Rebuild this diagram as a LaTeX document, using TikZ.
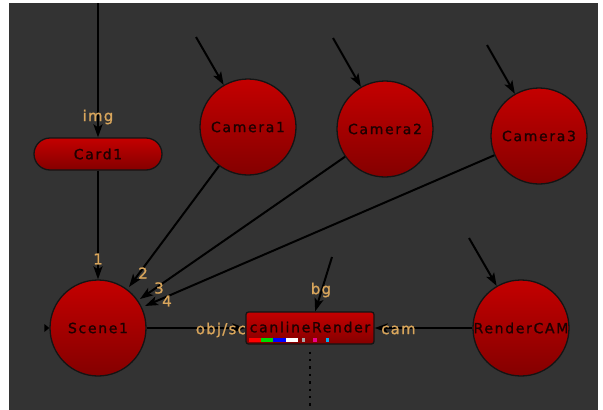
\documentclass[tikz,border=0pt]{standalone}
\usepackage{fontspec}
\newfontfamily\nodefont[LetterSpace=12,FakeBold=1.2]{DejaVu Sans}
\newfontfamily\labfont[LetterSpace=8,FakeBold=1.2]{DejaVu Sans}
\usetikzlibrary{arrows.meta}
\definecolor{bgdark}{HTML}{333333}
\definecolor{nred}{HTML}{C40000}
\definecolor{dred}{HTML}{840000}
\definecolor{labc}{HTML}{D9A65C}
\definecolor{edgec}{HTML}{141414}
\definecolor{ntext}{HTML}{1E0000}
\begin{document}
\begin{tikzpicture}[x=1pt,y=-1pt,
  nuke/.style={draw=edgec, line width=1.3pt, top color=nred, bottom color=dred,
    font=\nodefont\fontsize{14}{14}\selectfont, text=ntext, inner sep=0pt},
  camnode/.style={nuke, circle, minimum size=96pt},
  boxnode/.style={nuke, minimum width=128pt, minimum height=32pt},
  conn/.style={draw=black, line width=2pt, -{Stealth[length=13pt,width=9pt,inset=3pt]}},
  lab/.style={text=labc, font=\labfont\fontsize{15}{15}\selectfont, inner sep=0pt},
  dots/.style={draw=black, line width=2.4pt, dash pattern=on 2.4pt off 5pt}
]
\fill[white] (0,0) rectangle (603,410);
\useasboundingbox (0,0) rectangle (603,410);
\fill[bgdark] (9,3) rectangle (598,410);

% nodes
\node[camnode] (cam1) at (248,127) {Camera1};
\node[camnode] (cam2) at (385,129) {Camera2};
\node[camnode] (cam3) at (539,136) {\raisebox{-3pt}{Camera3}};
\node[camnode] (scene) at (98,328) {\raisebox{-2pt}{Scene1}};
\node[camnode] (rcam) at (521,328) {RenderCAM};
\node[boxnode, rounded corners=16pt] (card) at (98,154) {Card1};
\node[boxnode, rounded corners=2.5pt] (scan) at (310,328) {\raisebox{2pt}{canlineRender}};

% colour bars
\fill[red] (249,338) rectangle (261,342);
\fill[green!85!black] (261,338) rectangle (273,342);
\fill[blue] (273,338) rectangle (286,342);
\fill[white] (286,338) rectangle (298,342);
\fill[gray!70] (302,338) rectangle (305,342);
\fill[magenta] (313,338) rectangle (317,342);
\fill[cyan] (326,338) rectangle (329,342);

% free ends
\coordinate (imgin) at (98,3);
\coordinate (c1in) at (196,37);
\coordinate (c2in) at (333,38);
\coordinate (c3in) at (487,45);
\coordinate (rin) at (469,238);
\coordinate (bgin) at (332,257);
\coordinate (t2) at (129,287);
\coordinate (t3) at (140,299);
\coordinate (t4) at (145,306);
\coordinate (dotend) at (310,410);

% connectors
\draw[conn] (imgin) -- (card);
\draw[conn] (card) -- (scene);
\draw[conn] (c1in) -- (cam1);
\draw[conn] (c2in) -- (cam2);
\draw[conn] (c3in) -- (cam3);
\draw[conn] (rin) -- (rcam);
\draw[conn] (cam1) -- (t2);
\draw[conn] (cam2) -- (t3);
\draw[conn] (cam3) -- (t4);
\draw[conn] (bgin) -- (scan);
\draw[conn] (scene) -- (scan);
\draw[conn] (rcam) -- (scan);
\draw[dots] ([yshift=-7pt]scan.south) -- (dotend);
\fill[black] ([xshift=-5pt,yshift=-4pt]scene.west) -- ([xshift=0pt]scene.west) -- ([xshift=-5pt,yshift=4pt]scene.west) -- cycle;

% labels
\node[lab] (limg) at (98,117) {img};
\node[lab] (l1) at (98,259) {1};
\node[lab] (l2) at (143,273) {2};
\node[lab] (l3) at (159,288) {3};
\node[lab] (l4) at (167,301) {4};
\node[lab] (lbg) at (321,290) {bg};
\node[lab, anchor=east] (lobj) at (246,330) {obj/sc};
\node[lab, anchor=west] (lcam) at (381,330) {cam};
\end{tikzpicture}
\end{document}
